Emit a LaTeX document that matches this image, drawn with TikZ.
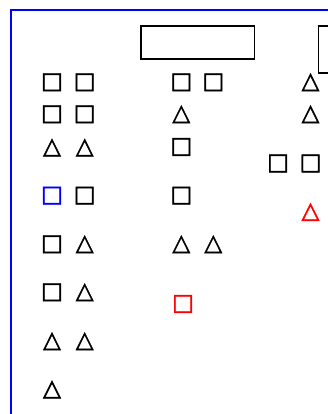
\documentclass[tikz,border=0pt]{standalone}
\usepackage{fontspec}
\newfontfamily\symfont[FakeBold=2]{DejaVu Sans}
\begin{document}
\begin{tikzpicture}[
		x=1pt, y=-1pt,
		glyph/.style={inner sep=0pt, font=\symfont\fontsize{23}{23}\selectfont},
		frame/.style={draw=blue, line width=1.8pt},
		box/.style={draw=black, line width=1.6pt},
		]
		\useasboundingbox (0,0) rectangle (328,414);
		\clip (0,0) rectangle (328,414);
		
		% Outer frame and header boxes
		\draw[frame] (10.8,9.8) rectangle (345,430);
		\draw[box] (140.7,26) rectangle (254.3,58.8);
		\draw[box] (318.3,26) rectangle (345,73.3);
		
		% First column
		\node[glyph] (a1) at (52,82.3) {□};
		\node[glyph] (a2) at (84.7,82.3) {□};
		\node[glyph] (b1) at (52,114.3) {□};
		\node[glyph] (b2) at (84.7,114.3) {□};
		\node[glyph] (c1) at (52,147.7) {△};
		\node[glyph] (c2) at (84.7,147.7) {△};
		\node[glyph, text=blue] (d1) at (52,195.7) {□};
		\node[glyph] (d2) at (84.7,195.7) {□};
		\node[glyph] (e1) at (52,244.3) {□};
		\node[glyph] (e2) at (84.7,244.3) {△};
		\node[glyph] (f1) at (52,292.3) {□};
		\node[glyph] (f2) at (84.7,292.3) {△};
		\node[glyph] (g1) at (52,341.3) {△};
		\node[glyph] (g2) at (84.7,341.3) {△};
		\node[glyph] (h1) at (52,389.5) {△};
		
		% Second column
		\node[glyph] (i1) at (181.3,82.3) {□};
		\node[glyph] (i2) at (213.3,82.3) {□};
		\node[glyph] (j1) at (181.3,114.3) {△};
		\node[glyph] (k1) at (181.3,147) {□};
		\node[glyph] (l1) at (181.3,195.7) {□};
		\node[glyph] (m1) at (181.3,244.3) {△};
		\node[glyph] (m2) at (213.3,244.3) {△};
		\node[glyph, text=red] (n1) at (183,304) {□};
		
		% Third column
		\node[glyph] (p1) at (310.5,82.3) {△};
		\node[glyph] (q1) at (310.5,114.3) {△};
		\node[glyph] (r1) at (278,163.5) {□};
		\node[glyph] (r2) at (310.5,163.5) {□};
		\node[glyph, text=red] (s1) at (310.5,212) {△};
		
	\end{tikzpicture}
\end{document}
